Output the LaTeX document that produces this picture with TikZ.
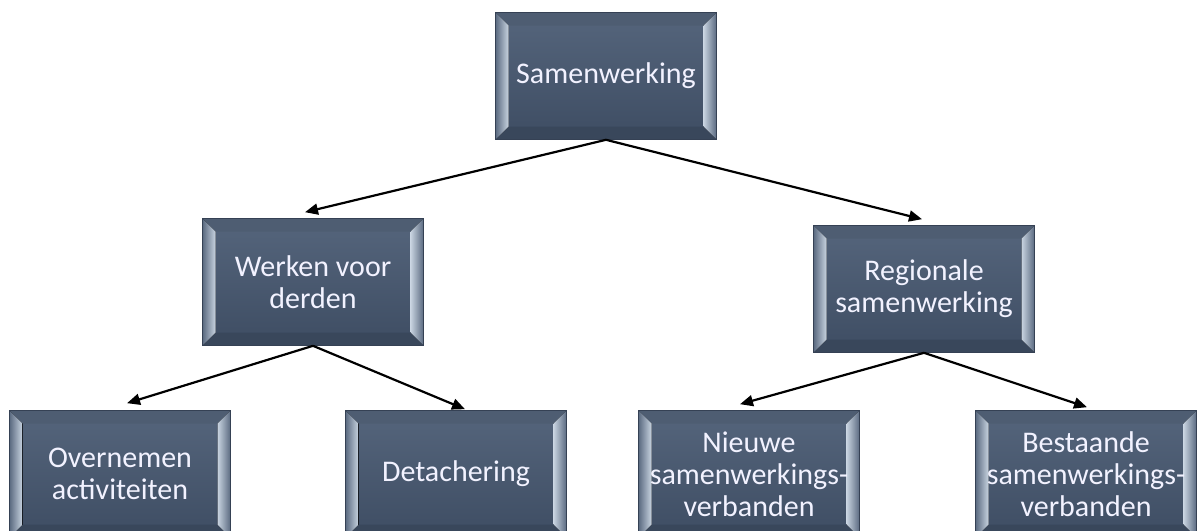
\documentclass[tikz,border=0pt]{standalone}
\usepackage{fontspec}
\setmainfont{Carlito}
\usetikzlibrary{arrows.meta}

\definecolor{boxtop}{HTML}{55657C}
\definecolor{boxbot}{HTML}{3E4D63}
\definecolor{bevlight}{HTML}{C8D3E0}
\definecolor{bevdark}{HTML}{5A6A80}

\tikzset{
  bevelbox/.style={rectangle, minimum width=221pt, minimum height=127pt, inner sep=0pt,
    align=center, text=white!95!blue, font=\fontsize{30}{32}\selectfont,
    top color=boxtop, bottom color=boxbot, draw=boxbot!85!black, line width=0.6pt,
    path picture={
      \fill[boxtop!92!black]
        (path picture bounding box.north west)
        -- ([xshift=13pt,yshift=-13pt]path picture bounding box.north west)
        -- ([xshift=-13pt,yshift=-13pt]path picture bounding box.north east)
        -- (path picture bounding box.north east) -- cycle;
      \fill[boxbot!92!black]
        (path picture bounding box.south west)
        -- ([xshift=13pt,yshift=13pt]path picture bounding box.south west)
        -- ([xshift=-13pt,yshift=13pt]path picture bounding box.south east)
        -- (path picture bounding box.south east) -- cycle;
      \fill[left color=bevdark, right color=bevlight]
        (path picture bounding box.north west)
        -- ([xshift=13pt,yshift=-13pt]path picture bounding box.north west)
        -- ([xshift=13pt,yshift=13pt]path picture bounding box.south west)
        -- (path picture bounding box.south west) -- cycle;
      \fill[left color=bevlight, right color=bevdark]
        (path picture bounding box.north east)
        -- ([xshift=-13pt,yshift=-13pt]path picture bounding box.north east)
        -- ([xshift=-13pt,yshift=13pt]path picture bounding box.south east)
        -- (path picture bounding box.south east) -- cycle;
    }},
  arr/.style={-{Triangle[length=13pt,width=11pt]}, line width=2.2pt}
}

\begin{document}
\begin{tikzpicture}[x=1pt,y=-1pt]
  \useasboundingbox[fill=white] (0,0) rectangle (1198,530);

  \node[bevelbox] (sam) at (606,76)   {Samenwerking};
  \node[bevelbox] (wvd) at (313,282)  {Werken voor\\derden};
  \node[bevelbox] (reg) at (924,289)  {Regionale\\samenwerking};
  \node[bevelbox] (ova) at (120,474)  {Overnemen\\activiteiten};
  \node[bevelbox] (det) at (456,474)  {Detachering};
  \node[bevelbox] (nsv) at (749,474)  {Nieuwe\\samenwerkings-\\verbanden};
  \node[bevelbox] (bsv) at (1086,474) {Bestaande\\samenwerkings-\\verbanden};

  \path[arr]
    (sam.south) edge ([xshift=-8pt,yshift=6pt]wvd.north)
                edge ([xshift=-2pt,yshift=6pt]reg.north)
    (wvd.south) edge ([xshift=7pt,yshift=7pt]ova.north)
                edge ([xshift=9pt,yshift=1pt]det.north)
    (reg.south) edge ([xshift=-9pt,yshift=6pt]nsv.north)
                edge ([xshift=1pt,yshift=3pt]bsv.north);
\end{tikzpicture}
\end{document}
